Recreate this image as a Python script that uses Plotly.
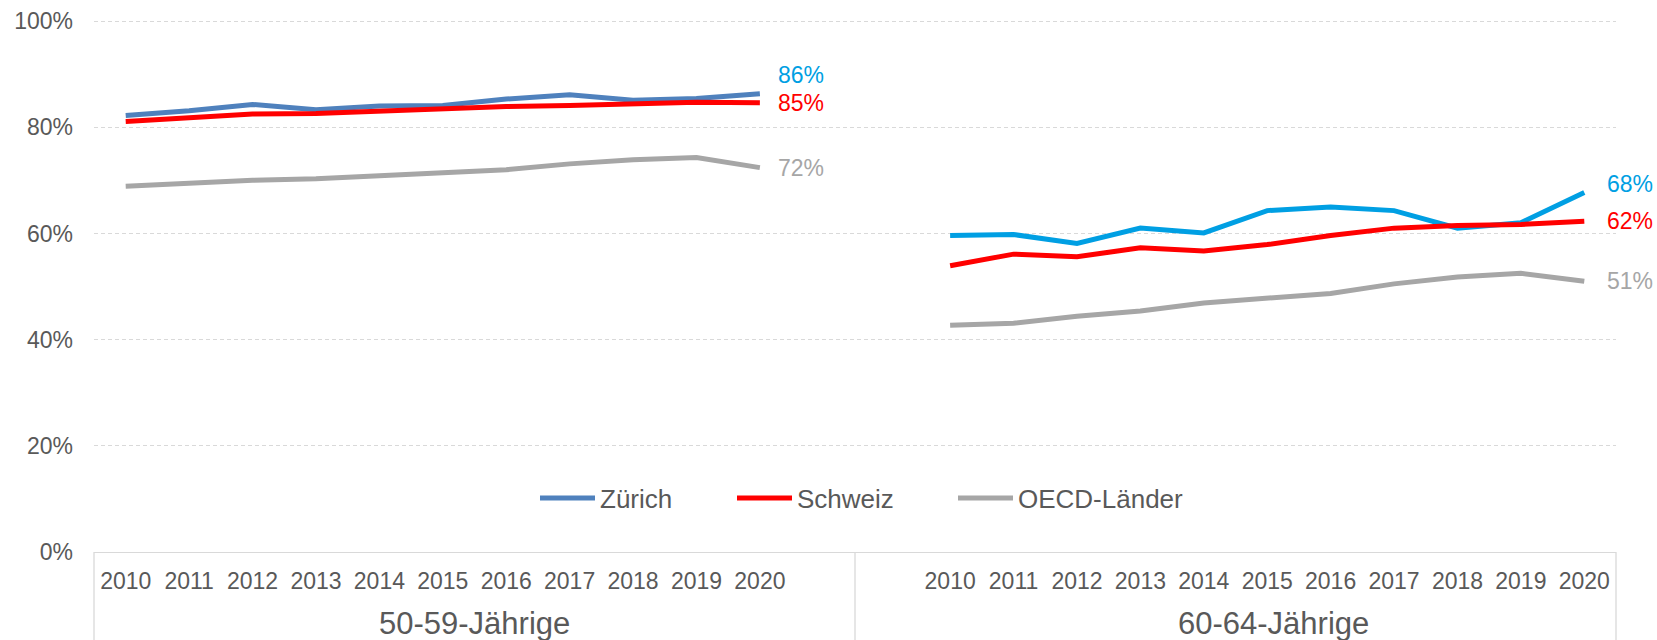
import plotly.graph_objects as go

# ---------------- data ----------------
years = ["2010", "2011", "2012", "2013", "2014", "2015", "2016", "2017", "2018", "2019", "2020"]
groups = ["50-59-Jährige", "60-64-Jährige"]
series_names = ["Zürich", "Schweiz", "OECD-Länder"]

zuerich_50_59 = [82.2, 83.1, 84.3, 83.3, 84.0, 84.1, 85.3, 86.1, 85.1, 85.4, 86.3]
schweiz_50_59 = [81.1, 81.9, 82.5, 82.6, 83.1, 83.5, 83.9, 84.1, 84.4, 84.7, 84.6]
oecd_50_59 = [68.9, 69.5, 70.0, 70.3, 70.8, 71.4, 72.0, 73.1, 73.9, 74.3, 72.4]

zuerich_60_64 = [59.6, 59.8, 58.1, 61.0, 60.1, 64.3, 65.0, 64.3, 61.0, 62.0, 67.7]
schweiz_60_64 = [53.9, 56.1, 55.6, 57.3, 56.7, 57.9, 59.6, 61.0, 61.5, 61.7, 62.3]
oecd_60_64 = [42.7, 43.1, 44.4, 45.4, 46.9, 47.7, 48.7, 50.5, 51.8, 52.5, 51.0]

y_ticks = [0, 20, 40, 60, 80, 100]
y_tick_labels = [f"{v}%" for v in y_ticks]

# ---------------- styling ----------------
FONT = "Liberation Sans, Arial, sans-serif"
TXT = "#595959"
GRID = "#D9D9D9"
line_colors_g1 = ["#4F81BD", "#FF0000", "#A6A6A6"]
line_colors_g2 = ["#009FE3", "#FF0000", "#A6A6A6"]
label_colors = ["#009FE3", "#FF0000", "#A6A6A6"]

n = len(years)
gap = 2
x_g1 = list(range(n))
x_g2 = [n + gap + i for i in range(n)]
n_total = n * 2 + gap

data_g1 = [zuerich_50_59, schweiz_50_59, oecd_50_59]
data_g2 = [zuerich_60_64, schweiz_60_64, oecd_60_64]

legend_ids = ["legend", "legend2", "legend3"]
legend_px = [535, 732, 953]  # left edge of each legend entry (px)

W, H = 1657, 640
ML, MR, MT, MB = 94, 41, 20, 88
plot_w = W - ML - MR
plot_h = H - MT - MB

fig = go.Figure()
for k, name in enumerate(series_names):
    fig.add_trace(go.Scatter(
        x=x_g1, y=data_g1[k], mode="lines", name=name,
        line=dict(color=line_colors_g1[k], width=5),
        legendgroup=name, showlegend=True, legend=legend_ids[k],
        hoverinfo="skip"))
    fig.add_trace(go.Scatter(
        x=x_g2, y=data_g2[k], mode="lines", name=name,
        line=dict(color=line_colors_g2[k], width=5),
        legendgroup=name, showlegend=False, legend=legend_ids[k],
        hoverinfo="skip"))

# end-of-line value labels
yshifts_g1 = [19, 0, 0]
yshifts_g2 = [9, 0, 0]
annotations = []
for k in range(3):
    for xs, vals, ysh, xsh in ((x_g1, data_g1[k], yshifts_g1[k], 16), (x_g2, data_g2[k], yshifts_g2[k], 21)):
        annotations.append(dict(
            x=xs[-1], y=vals[-1], xref="x", yref="y",
            text=f"{round(vals[-1])}%", showarrow=False,
            xanchor="left", yanchor="middle", xshift=xsh, yshift=ysh,
            font=dict(family=FONT, size=23, color=label_colors[k])))

# group labels
group_centers = [(x_g1[0] - 0.5 + x_g1[-1] + 1.5) / 2, 18.1]
for g, cx in zip(groups, group_centers):
    annotations.append(dict(
        x=cx, y=(-(623 - (H - MB)) / plot_h), xref="x", yref="paper",
        text=g, showarrow=False, xanchor="center", yanchor="middle",
        font=dict(family=FONT, size=31, color=TXT)))

# dividers below the axis
shapes = []
for xp in (0.0, 0.5, 1.0):
    shapes.append(dict(type="line", xref="paper", yref="paper",
                       x0=xp, x1=xp, y0=0, y1=-MB / plot_h,
                       line=dict(color=GRID, width=1.3)))

legend_y = (H - MB - 498) / plot_h
layout_legends = {}
for k, lid in enumerate(legend_ids):
    layout_legends[lid] = dict(
        x=(legend_px[k] - ML) / plot_w, y=legend_y,
        xanchor="left", yanchor="middle", orientation="h",
        bgcolor="rgba(0,0,0,0)", itemwidth=55,
        font=dict(family=FONT, size=26, color=TXT))

fig.update_layout(
    width=W, height=H, autosize=False,
    margin=dict(l=ML, r=MR, t=MT, b=MB, pad=0, autoexpand=False),
    paper_bgcolor="white", plot_bgcolor="white",
    font=dict(family=FONT, color=TXT),
    showlegend=True,
    annotations=annotations, shapes=shapes,
    xaxis=dict(
        range=[-0.5, n_total - 0.5],
        tickvals=x_g1 + x_g2, ticktext=years + years,
        showgrid=False, zeroline=False, automargin=False,
        showline=True, linecolor=GRID, linewidth=1.3,
        ticks="", ticklabelstandoff=8,
        tickfont=dict(family=FONT, size=23, color=TXT),
        fixedrange=True),
    yaxis=dict(
        range=[0, 100.2], tickvals=y_ticks, ticktext=y_tick_labels,
        showgrid=True, gridcolor=GRID, gridwidth=1, griddash="4px,3px",
        zeroline=False, showline=False, ticks="", ticklabelstandoff=20,
        automargin=False,
        tickfont=dict(family=FONT, size=23, color=TXT),
        fixedrange=True),
    **layout_legends,
)

fig.write_html(
    "out.html",
    config={"displayModeBar": False},
    post_script="document.body.style.margin='0px';document.body.style.overflow='hidden';",
)
